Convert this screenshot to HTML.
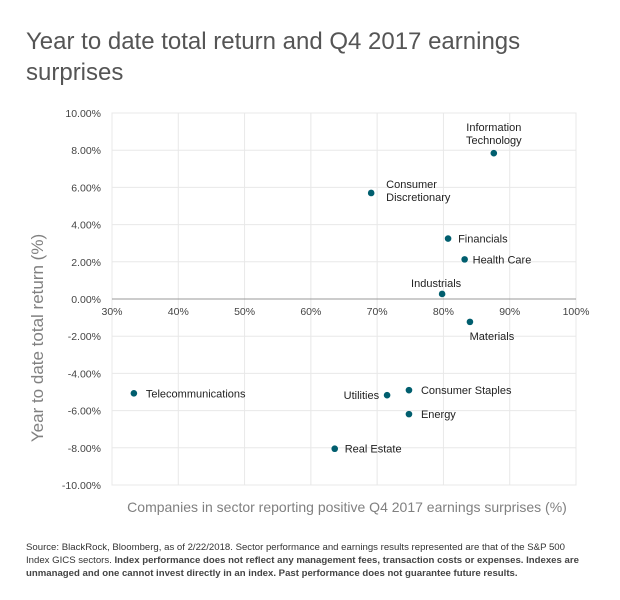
<!DOCTYPE html>
<html><head><meta charset="utf-8">
<style>
body{margin:0;background:#fff;font-family:"Liberation Sans",sans-serif;}
#wrap{position:relative;width:620px;height:600px;overflow:hidden;}
.title{position:absolute;left:26px;top:26px;font-size:24px;color:#555;line-height:31px;font-weight:normal;}
.foot{position:absolute;left:26px;top:541px;width:566px;font-size:9.6px;line-height:13px;color:#333;}
.foot b{color:#444;}
</style></head><body>
<div id="wrap">
<div class="title">Year to date total return and Q4 2017 earnings<br>surprises</div>
<svg id="svg" width="620" height="600" style="position:absolute;left:0;top:0"></svg>
<div class="foot">Source: BlackRock, Bloomberg, as of 2/22/2018. Sector performance and earnings results represented are that of the S&amp;P 500<br>Index GICS sectors. <b>Index performance does not reflect any management fees, transaction costs or expenses. Indexes are unmanaged and one cannot invest directly in an index. Past performance does not guarantee future results.</b></div>
</div>
<script>
const sectors=["Information Technology","Consumer Discretionary","Financials","Health Care","Industrials","Materials","Telecommunications","Utilities","Consumer Staples","Energy","Real Estate"];
const xValues=[87.6,69.1,80.7,83.2,79.8,84.0,33.3,71.5,74.8,74.8,63.6];
const yValues=[7.84,5.7,3.25,2.13,0.27,-1.23,-5.07,-5.17,-4.9,-6.19,-8.05];
const xTicks=[30,40,50,60,70,80,90,100];
const yTicks=[10,8,6,4,2,0,-2,-4,-6,-8,-10];
const labelPos=[[0,-22,"middle",2],[15,-5,"start",2],[10,4,"start",1],[8,4,"start",1],[-6,-7,"middle",1],[22,18,"middle",1],[12,4,"start",1],[-8,4,"end",1],[12,4,"start",1],[12,4,"start",1],[10,4,"start",1]];
const X0=112,X1=576,Y0=113,Y1=485;
const xs=v=>X0+(v-30)/70*(X1-X0);
const ys=v=>Y0+(10-v)/20*(Y1-Y0);
const svg=document.getElementById('svg');
const NS="http://www.w3.org/2000/svg";
function mk(t,a){const e=document.createElementNS(NS,t);for(const k in a)e.setAttribute(k,a[k]);svg.appendChild(e);return e;}
const bg=mk('rect',{x:X0,y:Y0,width:X1-X0,height:Y1-Y0,fill:'#fff',stroke:'#e6e6e6'});


xTicks.forEach(t=>{
  const l=mk('line',{x1:xs(t),x2:xs(t),y1:Y0,y2:Y1,stroke:'#e8e8e8'});
  
  
  const tx=mk('text',{x:xs(t),y:ys(0)+16,'text-anchor':'middle','font-size':'10.5',fill:'#444'});
  tx.textContent=t+'%';
  
  
});
yTicks.forEach(t=>{
  const l=mk('line',{x1:X0,x2:X1,y1:ys(t),y2:ys(t),stroke:'#e8e8e8'});
  
  
  const tx=mk('text',{x:X0-11,y:ys(t)+4,'text-anchor':'end','font-size':'10.5',fill:'#444'});
  tx.textContent=t.toFixed(2)+'%';
  
  
});
const ax=mk('line',{x1:X0,x2:X1,y1:ys(0),y2:ys(0),stroke:'#999'});


sectors.forEach((s,i)=>{
  const cx=xs(xValues[i]),cy=ys(yValues[i]);
  const c=mk('circle',{cx:cx,cy:cy,r:3.3,fill:'#005e6e'});
  
  
  const p=labelPos[i];
  const tx=mk('text',{x:cx+p[0],y:cy+p[1],'text-anchor':p[2],'font-size':'11',fill:'#222'});
  if(p[3]==2){const w=s.split(' ');
    const a=document.createElementNS(NS,'tspan');a.setAttribute('x',cx+p[0]);a.textContent=w[0];tx.appendChild(a);
    const b=document.createElementNS(NS,'tspan');b.setAttribute('x',cx+p[0]);b.setAttribute('dy','13');b.textContent=w[1];tx.appendChild(b);
  } else tx.textContent=s;
  
  
});
const xt=mk('text',{x:347,y:512,'text-anchor':'middle','font-size':'14',fill:'#808080'});
xt.textContent='Companies in sector reporting positive Q4 2017 earnings surprises (%)';


const yt=mk('text',{x:0,y:0,'text-anchor':'middle','font-size':'17',fill:'#808080',transform:'translate(43,'+((Y0+Y1)/2+39)+') rotate(-90)'});
yt.textContent='Year to date total return (%)';


</script>
</body></html>
